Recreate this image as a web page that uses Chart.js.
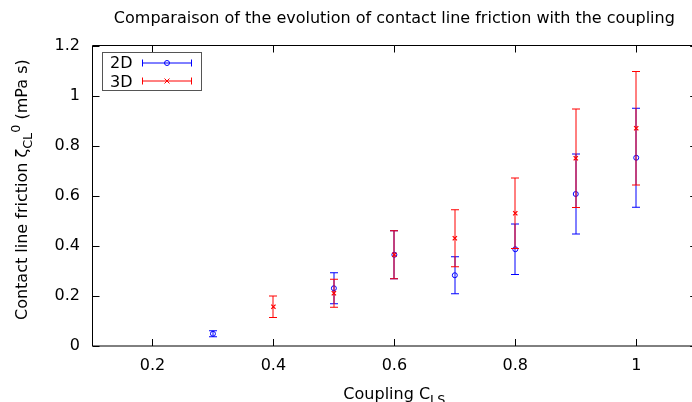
<!DOCTYPE html>
<html>
<head>
<meta charset="utf-8">
<script src="https://cdn.jsdelivr.net/npm/chart.js@4/dist/chart.umd.min.js"></script>
<style>
  body { margin: 0; background: #fff; }
  #wrap { width: 692px; height: 402px; overflow: hidden; }
</style>
</head>
<body>
<div id="wrap"><canvas id="myChart" width="702" height="402"></canvas></div>
<script>
// coupling values and friction (mPa s)
var coupling2D = [0.3, 0.5, 0.6, 0.7, 0.8, 0.9, 1.0];
var friction2D = [0.049, 0.231, 0.365, 0.283, 0.387, 0.608, 0.753];
var error2D    = [0.012, 0.062, 0.096, 0.074, 0.101, 0.160, 0.198];

var coupling3D = [0.4, 0.5, 0.6, 0.7, 0.8, 0.9, 1.0];
var friction3D = [0.157, 0.211, 0.365, 0.431, 0.531, 0.751, 0.871];
var error3D    = [0.043, 0.056, 0.096, 0.114, 0.141, 0.197, 0.227];

var xTicks = [0.2, 0.4, 0.6, 0.8, 1];
var yTicks = [0, 0.2, 0.4, 0.6, 0.8, 1, 1.2];

var TITLE = 'Comparaison of the evolution of contact line friction with the coupling';
var FONT = "'DejaVu Sans', sans-serif";
var SIZE = 16;

function toPoints(xs, ys) {
    return xs.map(function (x, i) { return { x: x, y: ys[i] }; });
}

// draw a string made of pieces, some as sub/superscript; returns the width
function drawRich(ctx, parts, x, y, size, measureOnly) {
    var pos = x;
    parts.forEach(function (p) {
        var s = p.sub || p.sup ? size * 0.8 : size;
        var dy = p.sub ? size * 0.3 : (p.sup ? -size * 0.45 : 0);
        ctx.font = s + "px " + FONT;
        if (!measureOnly) ctx.fillText(p.t, pos, y + dy);
        pos += ctx.measureText(p.t).width;
    });
    return pos - x;
}

// gnuplot style yerrorbars, drawn right after each dataset's points
var errorBars = {
    id: 'errorBars',
    afterDatasetDraw: function (chart, args) {
        var ctx = chart.ctx;
        var xs = chart.scales.x, ys = chart.scales.y;
        var sets = [[coupling2D, friction2D, error2D, 'blue'], [coupling3D, friction3D, error3D, 'red']];
        var s = sets[args.index];
        ctx.save();
        ctx.strokeStyle = s[3];
        ctx.lineWidth = 1;
        for (var i = 0; i < s[0].length; i++) {
            var px = Math.round(xs.getPixelForValue(s[0][i]));
            var top = ys.getPixelForValue(s[1][i] + s[2][i]);
            var bot = ys.getPixelForValue(s[1][i] - s[2][i]);
            ctx.beginPath();
            ctx.moveTo(px, top); ctx.lineTo(px, bot);
            ctx.moveTo(px - 4, top); ctx.lineTo(px + 4, top);
            ctx.moveTo(px - 4, bot); ctx.lineTo(px + 4, bot);
            ctx.stroke();
        }
        ctx.restore();
    }
};

var frame = {
    id: 'frame',
    afterDraw: function (chart) {
        var ctx = chart.ctx;
        var a = chart.chartArea;
        var xs = chart.scales.x, ys = chart.scales.y;
        var L = a.left + 0.5, R = a.right + 0.5, T = a.top - 0.5, B = a.bottom;
        ctx.save();
        ctx.strokeStyle = '#000';
        ctx.lineWidth = 1;
        ctx.beginPath();
        ctx.rect(L, T, R - L, B - T);
        xTicks.forEach(function (v) {
            var p = Math.round(xs.getPixelForValue(v)) + 0.5;
            ctx.moveTo(p, B); ctx.lineTo(p, B - 7);
            ctx.moveTo(p, T); ctx.lineTo(p, T + 7);
        });
        yTicks.forEach(function (v) {
            var p = Math.round(ys.getPixelForValue(v)) + 0.5;
            ctx.moveTo(L, p); ctx.lineTo(L + 7, p);
            ctx.moveTo(R, p); ctx.lineTo(R - 7, p);
        });
        ctx.stroke();

        // title, centred over the plot
        ctx.fillStyle = '#000';
        ctx.font = SIZE + "px " + FONT;
        ctx.textAlign = 'center';
        ctx.textBaseline = 'alphabetic';
        ctx.fillText(TITLE, (a.left + a.right) / 2, 23);
        ctx.textAlign = 'left';

        // legend box
        ctx.strokeStyle = '#555';
        ctx.strokeRect(102.5, 52.5, 99, 38);
        ctx.fillText('2D', 110, 68);
        ctx.fillText('3D', 110, 86.5);
        [[63, 'blue', 'circle'], [81, 'red', 'cross']].forEach(function (e) {
            var y = e[0];
            ctx.strokeStyle = e[1];
            ctx.beginPath();
            ctx.moveTo(142.5, y); ctx.lineTo(191.5, y);
            ctx.moveTo(142.5, y - 3.5); ctx.lineTo(142.5, y + 3.5);
            ctx.moveTo(191.5, y - 3.5); ctx.lineTo(191.5, y + 3.5);
            ctx.stroke();
            ctx.beginPath();
            if (e[2] === 'circle') {
                ctx.arc(167, y, 2.5, 0, Math.PI * 2);
            } else {
                ctx.moveTo(164.5, y - 2.5); ctx.lineTo(169.5, y + 2.5);
                ctx.moveTo(164.5, y + 2.5); ctx.lineTo(169.5, y - 2.5);
            }
            ctx.stroke();
        });

        // axis labels with sub/superscripts
        ctx.fillStyle = '#000';
        var xl = [{ t: 'Coupling C' }, { t: 'LS', sub: true }];
        var w = drawRich(ctx, xl, 0, 0, SIZE, true);
        drawRich(ctx, xl, (a.left + a.right) / 2 - w / 2, 399, SIZE);

        var yl = [{ t: 'Contact line friction \u03b6' }, { t: 'CL', sub: true }, { t: '0', sup: true }, { t: ' (mPa s)' }];
        ctx.translate(27, 320);
        ctx.rotate(-Math.PI / 2);
        drawRich(ctx, yl, 0, 0, SIZE);
        ctx.restore();
    }
};

new Chart(document.getElementById('myChart'), {
    type: 'scatter',
    data: {
        datasets: [
            {
                label: '2D',
                data: toPoints(coupling2D, friction2D),
                order: 1,
                pointStyle: 'circle',
                pointRadius: 2.5,
                borderColor: 'blue',
                backgroundColor: 'rgba(0,0,0,0)',
                borderWidth: 1
            },
            {
                label: '3D',
                data: toPoints(coupling3D, friction3D),
                order: 0,
                pointStyle: 'crossRot',
                pointRadius: 3,
                borderColor: 'red',
                backgroundColor: 'red',
                borderWidth: 1.3
            }
        ]
    },
    options: {
        responsive: false,
        animation: false,
        layout: { padding: { left: 0, right: 1, top: 46, bottom: 0 } },
        plugins: {
            legend: { display: false },
            tooltip: { enabled: false },
            title: { display: false }
        },
        scales: {
            x: {
                type: 'linear',
                min: 0.1,
                max: 1.1,
                afterBuildTicks: function (s) { s.ticks = xTicks.map(function (v) { return { value: v }; }); },
                afterFit: function (s) { s.height = 56; },
                grid: { display: false, drawTicks: false },
                border: { display: false },
                ticks: { color: '#000', padding: 10, maxRotation: 0, font: { family: FONT, size: SIZE },
                         callback: function (v) { return String(v); } }
            },
            y: {
                min: 0,
                max: 1.2,
                afterBuildTicks: function (s) { s.ticks = yTicks.map(function (v) { return { value: v }; }); },
                afterFit: function (s) { s.width = 92; },
                grid: { display: false, drawTicks: false },
                border: { display: false },
                ticks: { color: '#000', padding: 12, font: { family: FONT, size: SIZE },
                         callback: function (v) { return String(v); } }
            }
        }
    },
    plugins: [errorBars, frame]
});
</script>
</body>
</html>
